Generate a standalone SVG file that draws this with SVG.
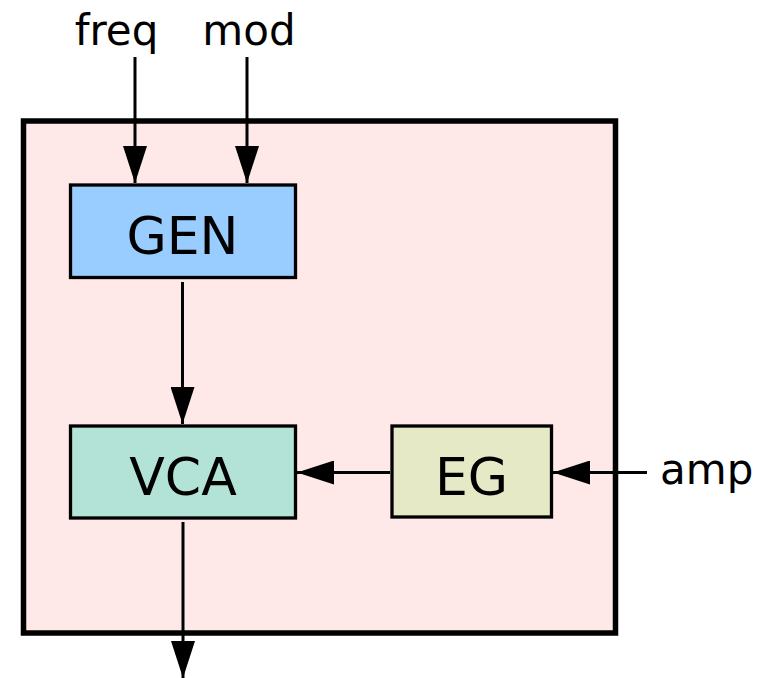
<svg xmlns="http://www.w3.org/2000/svg" width="761" height="678" viewBox="0 0 761 678">
  <defs>
    <style>
      .box { stroke: #000; stroke-width: 3.3; }
      .wire { stroke: #000; stroke-width: 3; fill: none; }
      .lbl { font-family: "DejaVu Sans", sans-serif; font-size: 52px; fill: #000; text-anchor: middle; }
      .port { font-family: "DejaVu Sans", sans-serif; font-size: 42px; fill: #000; }
    </style>
    <marker id="arrow" viewBox="0 0 37 24" refX="37" refY="12" markerWidth="37" markerHeight="24" markerUnits="userSpaceOnUse" orient="auto">
      <path d="M0,0 L37,12 L0,24 Z" fill="#000"/>
    </marker>
  </defs>

  <!-- enclosing module -->
  <g id="module">
    <rect x="23.5" y="121" width="592" height="512" fill="#ffe8e8" stroke="#000" stroke-width="5.5"/>
  </g>

  <g id="gen">
    <rect class="box" x="70.5" y="185" width="225" height="92.5" fill="#99ccff"/>
    <text class="lbl" x="182.5" y="254">GEN</text>
  </g>

  <g id="vca">
    <rect class="box" x="70.5" y="426" width="225" height="92" fill="#b3e3d6"/>
    <text class="lbl" x="183" y="495">VCA</text>
  </g>

  <g id="eg">
    <rect class="box" x="392" y="426" width="159.5" height="91" fill="#e6e9c6"/>
    <text class="lbl" x="471.5" y="495">EG</text>
  </g>

  <g id="ports">
    <text class="port" x="116.5" y="45" text-anchor="middle">freq</text>
    <text class="port" x="249" y="45" text-anchor="middle">mod</text>
    <text class="port" x="660" y="484">amp</text>
  </g>

  <g id="connectors">
    <line class="wire" x1="135" y1="57" x2="135" y2="183" marker-end="url(#arrow)"/>
    <line class="wire" x1="247" y1="57" x2="247" y2="183" marker-end="url(#arrow)"/>
    <line class="wire" x1="182.5" y1="282" x2="182.5" y2="424" marker-end="url(#arrow)"/>
    <line class="wire" x1="390" y1="472.5" x2="297" y2="472.5" marker-end="url(#arrow)"/>
    <line class="wire" x1="647" y1="472.5" x2="553" y2="472.5" marker-end="url(#arrow)"/>
    <line class="wire" x1="183" y1="522" x2="183" y2="678" marker-end="url(#arrow)"/>
  </g>
</svg>
